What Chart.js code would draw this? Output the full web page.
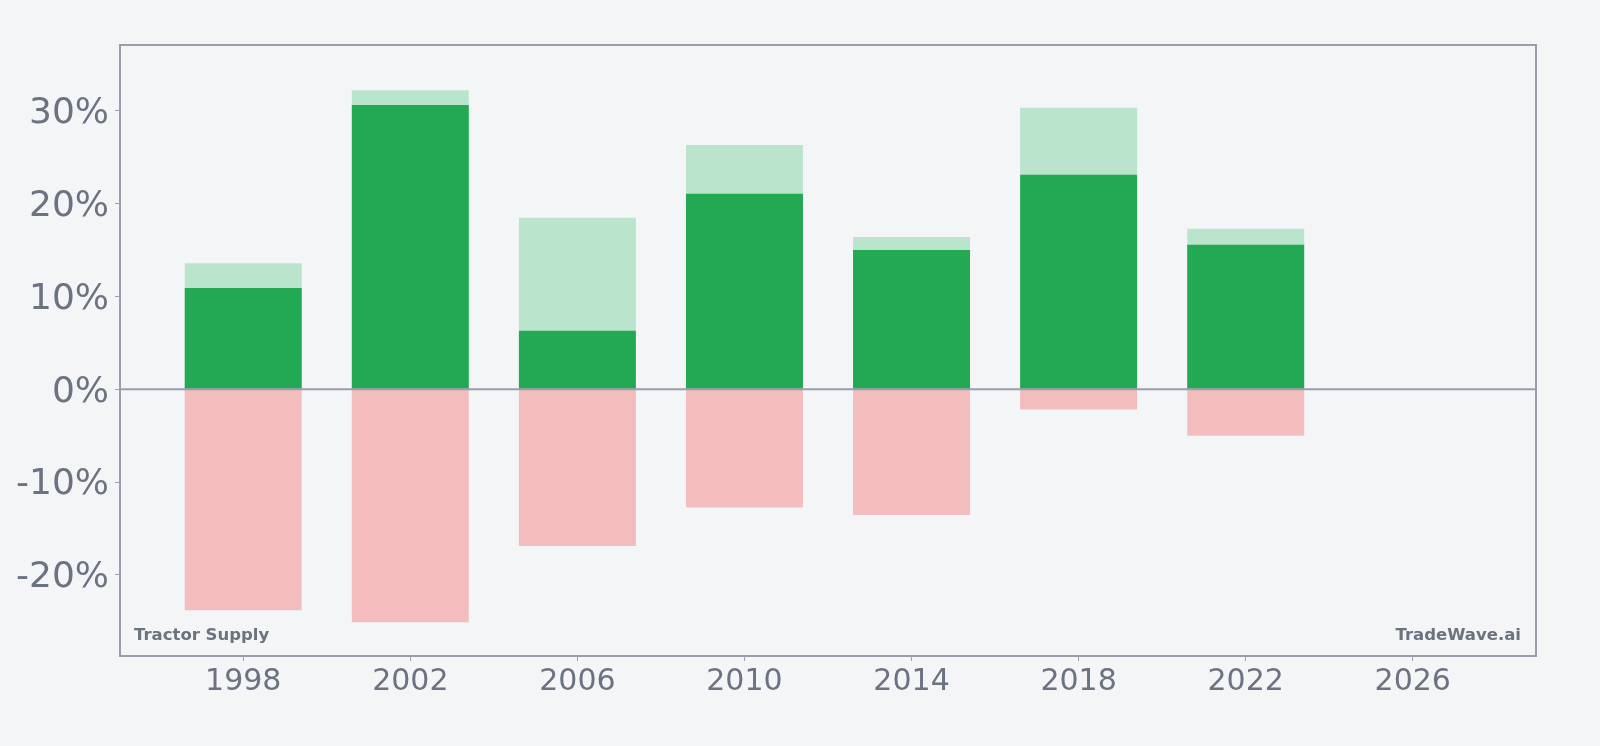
<!DOCTYPE html>
<html>
<head>
<meta charset="utf-8">
<script src="https://cdn.jsdelivr.net/npm/chart.js@4/dist/chart.umd.min.js"></script>
<style>
  html, body {
    margin: 0;
    padding: 0;
    background: #f4f5f7;
  }
  #wrap {
    width: 1600px;
    height: 746px;
  }
</style>
</head>
<body>
<div id="wrap"><canvas id="myChart" width="1600" height="746"></canvas></div>
<script>
// 4-year buckets
const years = [1998, 2002, 2006, 2010, 2014, 2018, 2022];
// close-to-close return (dark green)
const closeRet = [10.9, 30.6, 6.3, 21.05, 15.0, 23.1, 15.55];
// best point in the period (light green)
const highRet = [13.55, 32.2, 18.45, 26.3, 16.4, 30.3, 17.27];
// worst point in the period (red)
const lowRet = [-23.8, -25.1, -16.9, -12.75, -13.54, -2.19, -5.03];

const xTicks = [1998, 2002, 2006, 2010, 2014, 2018, 2022, 2026];
const yTicks = [-20, -10, 0, 10, 20, 30];

const textColor = '#6b7280';
const lineColor = '#9a9eab';
const font = 'DejaVu Sans';

const pts = vals => years.map((y, i) => ({x: y, y: vals[i]}));

// box round the plot + zero line + watermarks
const framePlugin = {
  id: 'frame',
  afterDatasetsDraw(chart) {
    const {ctx, chartArea: a, scales} = chart;
    ctx.save();
    ctx.strokeStyle = lineColor;
    ctx.lineWidth = 2;
    const y0 = scales.y.getPixelForValue(0);
    ctx.beginPath();
    ctx.moveTo(a.left, y0);
    ctx.lineTo(a.right, y0);
    ctx.stroke();
    ctx.strokeRect(a.left, a.top, a.right - a.left, a.bottom - a.top);

    ctx.fillStyle = textColor;
    ctx.font = 'bold 16.5px "' + font + '"';
    ctx.textBaseline = 'alphabetic';
    ctx.textAlign = 'left';
    ctx.fillText('Tractor Supply', a.left + 14, a.bottom - 16);
    ctx.textAlign = 'right';
    ctx.fillText('TradeWave.ai', a.right - 15, a.bottom - 16);
    ctx.restore();
  },
};

new Chart(document.getElementById('myChart'), {
  type: 'bar',
  data: {
    datasets: [
      {
        label: 'Close',
        data: pts(closeRet),
        backgroundColor: '#23a853',
      },
      {
        label: 'High',
        data: pts(highRet),
        backgroundColor: '#bae4cb',
      },
      {
        label: 'Low',
        data: pts(lowRet),
        backgroundColor: '#f3bcbd',
      },
    ],
  },
  options: {
    responsive: false,
    animation: false,
    grouped: false,
    barPercentage: 0.7,
    categoryPercentage: 1,
    layout: {
      padding: {
        left: 0,
        right: 64,
        top: 45,
        bottom: 0,
      },
    },
    plugins: {
      legend: {display: false},
      tooltip: {enabled: false},
    },
    scales: {
      x: {
        type: 'linear',
        offset: false,
        min: 1995.05,
        max: 2028.95,
        afterBuildTicks: scale => {
          scale.ticks = xTicks.map(v => ({value: v}));
        },
        afterFit: scale => {
          scale.height = 90;
        },
        grid: {
          offset: false,
          drawOnChartArea: false,
          color: lineColor,
          tickLength: 5,
        },
        border: {display: false},
        ticks: {
          color: textColor,
          font: {family: font, size: 30},
          padding: 3,
          maxRotation: 0,
          callback: v => String(v),
        },
      },
      y: {
        min: -28.74,
        max: 37.07,
        afterBuildTicks: scale => {
          scale.ticks = yTicks.map(v => ({value: v}));
        },
        afterFit: scale => {
          scale.width = 120;
        },
        grid: {
          drawOnChartArea: false,
          color: lineColor,
          tickLength: 5,
        },
        border: {display: false},
        ticks: {
          color: textColor,
          font: {family: font, size: 36},
          padding: 6,
          labelOffset: 3,
          callback: v => v + '%',
        },
      },
    },
  },
  plugins: [framePlugin],
});
</script>
</body>
</html>
